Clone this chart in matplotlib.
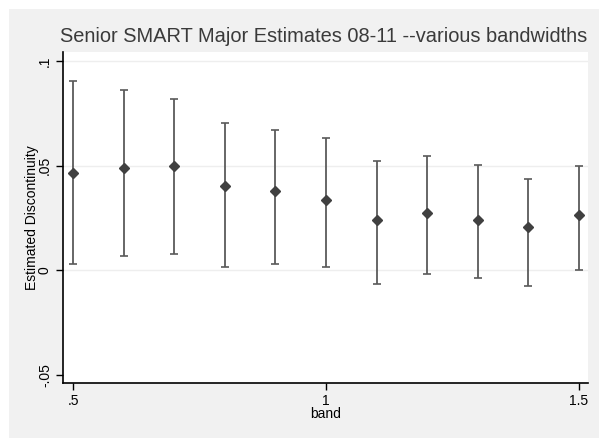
import matplotlib
matplotlib.use("Agg")
import matplotlib.pyplot as plt
from matplotlib.patches import Rectangle

band = [0.5, 0.6, 0.7, 0.8, 0.9, 1.0, 1.1, 1.2, 1.3, 1.4, 1.5]
estimate = [0.0463, 0.0490, 0.0500, 0.0403, 0.0379, 0.0334, 0.0240, 0.0274, 0.0239, 0.0207, 0.0263]
upper = [0.0903, 0.0863, 0.0817, 0.0703, 0.0670, 0.0630, 0.0522, 0.0548, 0.0505, 0.0438, 0.0498]
lower = [0.0030, 0.0070, 0.0076, 0.0017, 0.0029, 0.0016, -0.0064, -0.0018, -0.0037, -0.0076, 0.0000]

xticks = [0.5, 1.0, 1.5]
xticklabels = [".5", "1", "1.5"]
yticks = [-0.05, 0.0, 0.05, 0.1]
yticklabels = ["-.05", "0", ".05", ".1"]

plt.rcParams['font.family'] = ['Liberation Sans', 'DejaVu Sans']

W, H = 599, 438
fig = plt.figure(figsize=(W / 100, H / 100), dpi=100)
fig.patch.set_facecolor('white')
bg = Rectangle((9 / W, 0), 1 - 9 / W, 1 - 9 / H, transform=fig.transFigure,
               facecolor='#f1f1f1', edgecolor='none', zorder=-10)
fig.patches.append(bg)

ax = fig.add_axes([63 / W, 1 - 383 / H, (588 - 63) / W, (383 - 52) / H])
ax.set_zorder(5)
ax.set_facecolor('white')

ax.set_xlim(0.480, 1.518)
ax.set_ylim(-0.0538, 0.1043)

for y in [0.0, 0.05, 0.1]:
    ax.axhline(y, color='#eeeeee', lw=1.0, zorder=1)

yerr = [[e - l for e, l in zip(estimate, lower)], [u - e for u, e in zip(upper, estimate)]]
ax.errorbar(band, estimate, yerr=yerr, fmt='none', ecolor='#5a5a5a', elinewidth=1.3,
            capsize=3, capthick=1.2, zorder=2)
ax.plot(band, estimate, linestyle='none', marker='D', markersize=5,
        color='#404040', zorder=3)

for s in ['top', 'right']:
    ax.spines[s].set_visible(False)
for s in ['left', 'bottom']:
    ax.spines[s].set_color('black')
    ax.spines[s].set_linewidth(1.2)

ax.set_xticks(xticks)
ax.set_xticklabels(xticklabels)
ax.set_yticks(yticks)
ax.set_yticklabels(yticklabels, rotation=90, va='center')
ax.tick_params(axis='both', direction='out', length=5, width=1.0, color='black',
               labelsize=10, labelcolor='black')
ax.tick_params(axis='x', pad=3)
ax.tick_params(axis='y', pad=3)

ax.set_xlabel('band', fontsize=10, labelpad=-1)
ax.set_ylabel('Estimated Discontinuity', fontsize=10)
ax.yaxis.set_label_coords(-0.045, 0.5)

fig.text(324 / W, 1 - 42 / H, 'Senior SMART Major Estimates 08-11 --various bandwidths',
         ha='center', va='baseline', fontsize=14.4, color='#3a3a3a')

fig.savefig('out.png', dpi=100, facecolor=fig.get_facecolor())
